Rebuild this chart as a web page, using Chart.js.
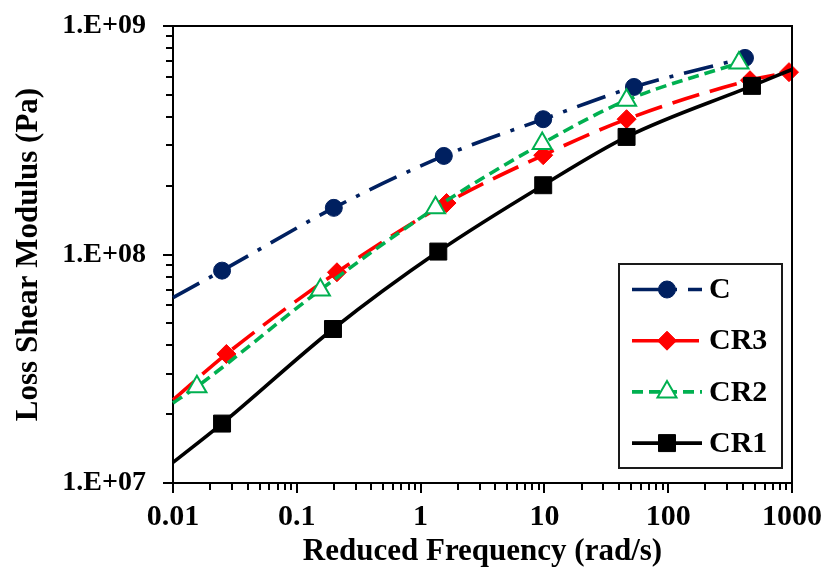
<!DOCTYPE html>
<html>
<head>
<meta charset="utf-8">
<script src="https://cdn.jsdelivr.net/npm/chart.js@4/dist/chart.umd.min.js"></script>
<style>
  html, body { margin: 0; padding: 0; background: #ffffff; }
  canvas { display: block; }
</style>
</head>
<body>
<canvas id="chart" width="827" height="569"></canvas>
<script>
// Measured points: reduced frequency (rad/s) and loss shear modulus (Pa)
const cFreq = [0.0249, 0.199, 1.54, 9.78, 52.9, 417];
const cG    = [8.50e7, 1.60e8, 2.70e8, 3.91e8, 5.41e8, 7.25e8];

const cr3Freq = [0.027, 0.211, 1.62, 9.78, 46.1, 458, 946];
const cr3G    = [3.67e7, 8.36e7, 1.68e8, 2.72e8, 3.91e8, 5.79e8, 6.28e8];

const cr2Freq = [0.0156, 0.155, 1.32, 9.6, 46.1, 373];
const cr2G    = [2.64e7, 7.0e7, 1.60e8, 3.06e8, 4.73e8, 6.89e8];

const cr1Freq = [0.0249, 0.196, 1.39, 9.78, 46.1, 475];
const cr1G    = [1.82e7, 4.72e7, 1.03e8, 2.01e8, 3.27e8, 5.47e8];

// Ends of the fitted master curves that reach past the measured points
const cCurveStart   = [0.01, 6.48e7];
const cr3CurveStart = [0.01, 2.31e7];
const cr2CurveStart = [0.01, 2.24e7];
const cr1CurveStart = [0.01, 1.23e7];
const cr1CurveEnd   = [1000, 6.45e8];

const seriesNames = ['C', 'CR3', 'CR2', 'CR1'];

const xTickValues = [0.01, 0.1, 1, 10, 100, 1000];
const xTickLabels = ['0.01', '0.1', '1', '10', '100', '1000'];
const yTickValues = [1e7, 1e8, 1e9];
const yTickLabels = ['1.E+07', '1.E+08', '1.E+09'];

const FONT = 'Liberation Serif';

// Curve points: optional start, measured markers, optional end
function curve(freq, g, start, end) {
  const pts = [];
  if (start) pts.push({ x: start[0], y: start[1], m: false });
  freq.forEach((f, i) => pts.push({ x: f, y: g[i], m: true }));
  if (end) pts.push({ x: end[0], y: end[1], m: false });
  return pts;
}

const looks = {
  C:   { color: '#002060', dash: [30, 11, 4, 11], style: 'circle',   radius: 8.5,  fill: '#002060', pbw: 1 },
  CR3: { color: '#ff0000', dash: [28, 11],        style: 'rectRot',  radius: 9.5,  fill: '#ff0000', pbw: 1 },
  CR2: { color: '#00b050', dash: [11, 6],         style: 'triangle', radius: 11,   fill: '#ffffff', pbw: 2 },
  CR1: { color: '#000000', dash: [],              style: 'rect',     radius: 12,   fill: '#000000', pbw: 1 }
};

const seriesData = {
  C:   curve(cFreq, cG, cCurveStart, null),
  CR3: curve(cr3Freq, cr3G, cr3CurveStart, null),
  CR2: curve(cr2Freq, cr2G, cr2CurveStart, null),
  CR1: curve(cr1Freq, cr1G, cr1CurveStart, cr1CurveEnd)
};

const datasets = seriesNames.map((name, i) => {
  const lk = looks[name];
  return {
    label: name,
    data: seriesData[name],
    borderColor: lk.color,
    borderWidth: 3.6,
    borderDash: lk.dash,
    borderCapStyle: 'butt',
    cubicInterpolationMode: 'monotone',
    pointStyle: lk.style,
    pointRadius: ctx => (ctx.raw && ctx.raw.m ? lk.radius : 0),
    pointHoverRadius: ctx => (ctx.raw && ctx.raw.m ? lk.radius : 0),
    pointBackgroundColor: lk.fill,
    pointBorderColor: lk.color,
    pointBorderWidth: lk.pbw,
    fill: false,
    clip: false,
    order: seriesNames.length - i
  };
});

const xTickFont = { family: FONT, size: 30, weight: 'bold' };
const yTickFont = { family: FONT, size: 28, weight: 'bold' };
const titleFont = { family: FONT, size: 31, weight: 'bold' };

// Log-axis tick marks, top/right frame and the boxed legend
const framePlugin = {
  id: 'frame',
  afterDraw(chart) {
    const ctx = chart.ctx;
    const a = chart.chartArea;
    const xs = chart.scales.x;
    const ys = chart.scales.y;
    ctx.save();
    ctx.strokeStyle = '#000';
    ctx.lineWidth = 2;
    ctx.setLineDash([]);
    // top and right edges of the plot frame
    ctx.beginPath();
    ctx.moveTo(a.left, a.top);
    ctx.lineTo(a.right, a.top);
    ctx.lineTo(a.right, a.bottom);
    ctx.stroke();
    // tick marks: decades long, 2..9 short
    ctx.beginPath();
    for (let e = -2; e <= 3; e++) {
      for (let k = 1; k <= 9; k++) {
        const v = k * Math.pow(10, e);
        if (v < xs.min * 0.999 || v > xs.max * 1.001) continue;
        const px = Math.round(xs.getPixelForValue(v));
        ctx.moveTo(px, a.bottom);
        ctx.lineTo(px, a.bottom + (k === 1 ? 10 : 7));
      }
    }
    for (let e = 7; e <= 9; e++) {
      for (let k = 1; k <= 9; k++) {
        const v = k * Math.pow(10, e);
        if (v < ys.min * 0.999 || v > ys.max * 1.001) continue;
        const py = Math.round(ys.getPixelForValue(v));
        ctx.moveTo(a.left, py);
        ctx.lineTo(a.left - (k === 1 ? 10 : 7), py);
      }
    }
    ctx.stroke();

    // legend
    const box = { x: 619, y: 264, w: 163, h: 204 };
    ctx.fillStyle = '#fff';
    ctx.fillRect(box.x, box.y, box.w, box.h);
    ctx.lineWidth = 2;
    ctx.strokeStyle = '#1a1a1a';
    ctx.strokeRect(box.x, box.y, box.w, box.h);
    const rowGap = 51.2;
    seriesNames.forEach((name, i) => {
      const lk = looks[name];
      const y = box.y + 25.5 + i * rowGap;
      ctx.save();
      ctx.strokeStyle = lk.color;
      ctx.lineWidth = 3.6;
      ctx.lineCap = 'butt';
      ctx.setLineDash(lk.dash);
      ctx.beginPath();
      ctx.moveTo(632, y);
      ctx.lineTo(702, y);
      ctx.stroke();
      ctx.setLineDash([]);
      ctx.fillStyle = lk.fill;
      ctx.strokeStyle = lk.color;
      ctx.lineWidth = lk.pbw;
      Chart.helpers.drawPoint(ctx, { pointStyle: lk.style, radius: lk.radius, rotation: 0, borderWidth: lk.pbw }, 667, y);
      ctx.restore();
      ctx.fillStyle = '#000';
      ctx.font = 'bold 30px "' + FONT + '"';
      ctx.textAlign = 'left';
      ctx.textBaseline = 'middle';
      ctx.fillText(name, 709, y + 1);
    });
    ctx.restore();
  }
};

new Chart(document.getElementById('chart'), {
  type: 'line',
  data: { datasets },
  options: {
    responsive: false,
    animation: false,
    devicePixelRatio: 1,
    layout: { padding: { top: 26, right: 35, left: 0, bottom: 0 } },
    plugins: { legend: { display: false }, tooltip: { enabled: false } },
    scales: {
      x: {
        type: 'logarithmic',
        min: 0.01,
        max: 1000,
        afterBuildTicks: s => { s.ticks = xTickValues.map(v => ({ value: v })); },
        afterFit: s => { s.height = 86; s.paddingLeft = 0; s.paddingRight = 0; },
        ticks: {
          autoSkip: false,
          maxRotation: 0,
          minRotation: 0,
          padding: 6,
          color: '#000',
          font: xTickFont,
          callback: v => { const i = xTickValues.indexOf(v); return i >= 0 ? xTickLabels[i] : ''; }
        },
        grid: { display: true, drawOnChartArea: false, drawTicks: true, tickLength: 10, color: 'rgba(0,0,0,0)' },
        border: { display: true, color: '#000', width: 2 },
        title: { display: true, text: 'Reduced Frequency (rad/s)', color: '#000', font: titleFont, padding: { top: 0, bottom: -2 } }
      },
      y: {
        type: 'logarithmic',
        min: 1e7,
        max: 1e9,
        afterBuildTicks: s => { s.ticks = yTickValues.map(v => ({ value: v })); },
        afterFit: s => { s.width = 173; s.paddingTop = 0; s.paddingBottom = 0; },
        ticks: {
          autoSkip: false,
          padding: 17,
          color: '#000',
          font: yTickFont,
          callback: v => { const i = yTickValues.indexOf(v); return i >= 0 ? yTickLabels[i] : ''; }
        },
        grid: { display: true, drawOnChartArea: false, drawTicks: true, tickLength: 10, color: 'rgba(0,0,0,0)' },
        border: { display: true, color: '#000', width: 2 },
        title: { display: true, text: 'Loss Shear Modulus (Pa)', color: '#000', font: titleFont, padding: { top: 10, bottom: 0 } }
      }
    }
  },
  plugins: [framePlugin]
});
</script>
</body>
</html>
